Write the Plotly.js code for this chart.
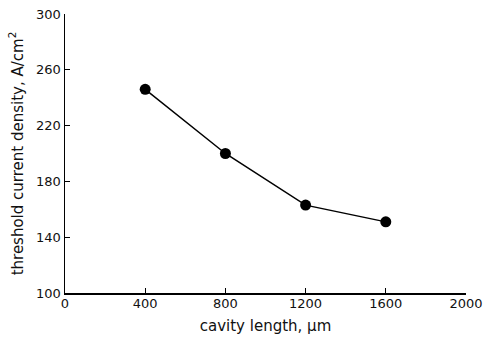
<!DOCTYPE html>
<html>
<head>
<meta charset="utf-8">
<script src="https://cdn.plot.ly/plotly-3.0.1.min.js"></script>
<style>html,body{margin:0;padding:0;background:#fff;}#chart{width:487px;height:339px;}</style>
</head>
<body>
<div id="chart"></div>
<script>
const cavityLength = [400, 800, 1200, 1600];
const thresholdDensity = [246, 200, 163, 151];
const xTicks = [0, 400, 800, 1200, 1600, 2000];
const yTicks = [100, 140, 180, 220, 260, 300];

const trace = {
  x: cavityLength,
  y: thresholdDensity,
  mode: 'lines+markers',
  type: 'scatter',
  line: {color: '#000', width: 1.5},
  marker: {color: '#000', size: 11},
  cliponaxis: false,
  hoverinfo: 'none'
};

const font = {family: 'DejaVu Sans, sans-serif', size: 13, color: '#111'};
const titleFont = {family: 'DejaVu Sans, sans-serif', size: 15, color: '#111'};

const layout = {
  width: 487, height: 339,
  margin: {l: 65, r: 21, t: 14, b: 46},
  paper_bgcolor: '#fff', plot_bgcolor: '#fff',
  showlegend: false,
  font: font,
  xaxis: {
    range: [0, 2000], tickvals: xTicks, ticktext: xTicks.map(String),
    showgrid: false, zeroline: false, showline: true, linecolor: '#000', linewidth: 1.5,
    ticks: 'inside', ticklen: 5, tickcolor: '#000', tickwidth: 1,
    tickfont: font, ticklabelstandoff: -2,
    title: {text: 'cavity length, µm', font: titleFont, standoff: 10}
  },
  yaxis: {
    range: [100, 300], tickvals: yTicks, ticktext: yTicks.map(String),
    showgrid: false, zeroline: false, showline: true, linecolor: '#000', linewidth: 1.5,
    ticks: 'inside', ticklen: 5, tickcolor: '#000', tickwidth: 1,
    tickfont: font,
    title: {text: 'threshold current density, A/cm<sup>2</sup>', font: titleFont, standoff: 9}
  }
};

Plotly.newPlot('chart', [trace], layout, {staticPlot: true, displayModeBar: false});
</script>
</body>
</html>
